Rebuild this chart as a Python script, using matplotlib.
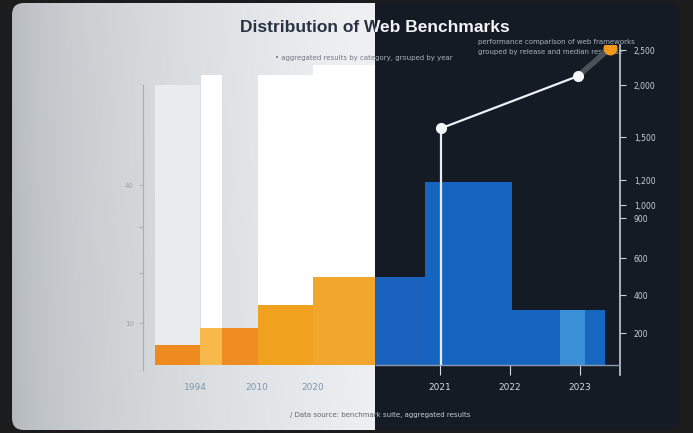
import numpy as np
import matplotlib
matplotlib.use("Agg")
import matplotlib.pyplot as plt
from matplotlib.patches import FancyBboxPatch, Rectangle

# Data (bins as edges, heights in % of scale)
white_edges = [(0, 45), (46, 67), (103, 158), (158, 220)]
white_heights = [87.5, 90.6, 90.6, 93.75]

orange_edges = [0, 45, 67, 103, 158, 220]
orange_heights = [6.25, 11.6, 11.6, 18.75, 27.5]
orange_colors = ["#ee8a1e", "#f7b84c", "#ef8c22", "#f0a21f", "#f2a62d"]

blue_edges = [220, 270, 357, 405, 430, 450]
blue_heights = [27.5, 57.2, 17.2, 17.2, 17.2]
blue_colors = ["#1a62bd", "#1565c0", "#1565c0", "#3a8fd6", "#1766c2"]

line_x = [286, 423]
line_y = [74, 90.3]
pen_x = [423, 455]
pen_y = [90.3, 99]

x_ticks = [40, 102, 158, 285, 355, 425]
x_labels = ["1994", "2010", "2020", "2021", "2022", "2023"]

right_ticks = [98.4, 87.5, 71.25, 57.8, 50.0, 46.0, 33.4, 21.9, 10]
right_labels = ["2,500", "2,000", "1,500", "1,200", "1,000", "900", "600", "400", "200"]

left_ticks = [13.1, 28.75, 43.1, 56.25]
left_labels = ["10", "", "", "40"]

W, H = 693, 433
fig = plt.figure(figsize=(W / 100, H / 100), dpi=100)
fig.patch.set_facecolor("#1c1c1c")

# background card in pixel coordinates
bg = fig.add_axes([0, 0, 1, 1])
bg.set_xlim(0, W)
bg.set_ylim(H, 0)
bg.axis("off")

card = FancyBboxPatch((12, 3), 668, 427, boxstyle="round,pad=0,rounding_size=12",
                      facecolor="none", edgecolor="none")
bg.add_patch(card)

gx = np.linspace(0, 1, 200)
gy = np.linspace(0, 1, 100)
GX, GY = np.meshgrid(gx, gy)
left_c = np.array([0.70, 0.72, 0.74])
right_c = np.array([0.93, 0.94, 0.945])
t = np.clip(GX ** 0.6 + 0.05 * (1 - GY), 0, 1)[..., None]
grad = left_c * (1 - t) + right_c * t
img = bg.imshow(grad, extent=[12, 375, 430, 3], aspect="auto", zorder=0)
img.set_clip_path(card)
dark = Rectangle((375, 3), 305, 427, facecolor="#141b25", edgecolor="none", zorder=1)
bg.add_patch(dark)
dark.set_clip_path(card)

# title / subtitles split across light and dark halves
left_clip = Rectangle((0, 0), 375, H, facecolor="none", edgecolor="none")
right_clip = Rectangle((375, 0), W - 375, H, facecolor="none", edgecolor="none")
bg.add_patch(left_clip)
bg.add_patch(right_clip)


def split_text(x, y, s, c_left, c_right, **kw):
    for col, clip in ((c_left, left_clip), (c_right, right_clip)):
        tx = bg.text(x, y, s, color=col, zorder=5, **kw)
        tx.set_clip_on(True)
        tx.set_clip_path(clip)


split_text(375, 27, "Distribution of Web Benchmarks", "#2a3244", "#f2f4f7",
           ha="center", va="center", fontsize=12.5, fontweight="bold",
           family=["Liberation Sans", "DejaVu Sans"])
bg.text(478, 42, "performance comparison of web frameworks", color="#aab3bf",
        fontsize=5, va="center", zorder=5)
bg.text(478, 52, "grouped by release and median response", color="#aab3bf",
        fontsize=5, va="center", zorder=5)
split_text(275, 58, "• aggregated results by category, grouped by year", "#6d7784", "#aab3bf",
           ha="left", va="center", fontsize=5)
split_text(290, 415, "/ Data source: benchmark suite, aggregated results", "#5d6672", "#c5ccd5",
           ha="left", va="center", fontsize=5)

# main chart
ax = fig.add_axes([143 / W, (H - 375) / H, (620 - 143) / W, 330 / H])
ax.patch.set_alpha(0)
ax.set_xlim(-12, 465)
ax.set_ylim(-3, 100)

for (a, b), h in zip(white_edges, white_heights):
    ax.bar(a, h, width=b - a, align="edge",
           color="#e9ebec" if a == 0 else "white", zorder=1)

for i, h in enumerate(orange_heights):
    ax.bar(orange_edges[i], h, width=orange_edges[i + 1] - orange_edges[i],
           align="edge", color=orange_colors[i], zorder=2)
for i, h in enumerate(blue_heights):
    ax.bar(blue_edges[i], h, width=blue_edges[i + 1] - blue_edges[i],
           align="edge", color=blue_colors[i], zorder=2)

ax.hlines(0, 220, 465, color="#8a9bb0", lw=1, zorder=3)

# line with stem and pen tip
ax.vlines(line_x[0], 0, line_y[0], color="#e8ecf0", lw=1.6, zorder=4)
ax.plot(line_x, line_y, color="#eef1f4", lw=1.6, zorder=4)
ax.plot(pen_x, pen_y, color="#4b5159", lw=4, solid_capstyle="round", zorder=4)
ax.plot(line_x, line_y, "o", color="#f4f6f8", ms=7, zorder=5)
ax.plot(pen_x[1], pen_y[1], "o", color="#f39a1e", ms=9, zorder=5)

# axes styling
for s in ["top", "bottom"]:
    ax.spines[s].set_visible(False)
ax.spines["left"].set_position(("data", -12))
ax.spines["left"].set_bounds(-1.5, 87.5)
ax.spines["left"].set_color("#a7aeb4")
ax.spines["right"].set_color("#c5ccd4")
ax.spines["right"].set_linewidth(1.2)

ax.set_yticks(left_ticks)
ax.set_yticklabels(left_labels, color="#9aa3aa", fontsize=5)
ax.tick_params(axis="y", which="both", left=True, length=3, color="#aab4ae")

ax2 = ax.twinx()
ax2.set_ylim(ax.get_ylim())
for s in ax2.spines.values():
    s.set_visible(False)
ax2.set_yticks(right_ticks)
ax2.set_yticklabels(right_labels, color="#c9d0d8", fontsize=5.5)
ax2.tick_params(axis="y", length=4, color="#c9d0d8", pad=6)

ax.set_xticks(x_ticks)
ax.set_xticklabels(x_labels, fontsize=6.5)
ax.tick_params(axis="x", direction="in", length=9, color="#d8dde3", pad=6)
for i, (tk, lab) in enumerate(zip(ax.xaxis.get_major_ticks(), ax.get_xticklabels())):
    if i < 3:
        tk.tick1line.set_visible(False)
        lab.set_color("#7f96ae")
    else:
        lab.set_color("#d3d9e0")

fig.savefig("out.png", dpi=100, facecolor=fig.get_facecolor())
